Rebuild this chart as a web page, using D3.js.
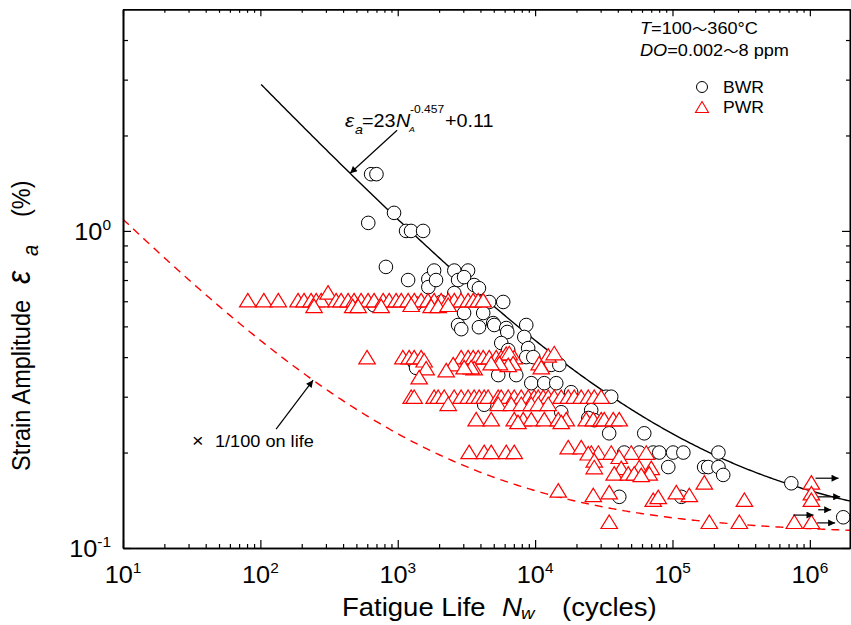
<!DOCTYPE html>
<html>
<head>
<meta charset="utf-8">
<script src="https://cdn.jsdelivr.net/npm/d3@7"></script>
<style>
  body { margin: 0; background: #fff; }
  svg { display: block; }
  text { font-family: "Liberation Sans", Arial, sans-serif; }
</style>
</head>
<body>
<svg id="chart" width="851" height="625"></svg>
<script>
// ---- Data: fatigue life (cycles) and strain amplitude (%) ----
const bwrLife = [640, 700, 940, 610, 1150, 1250, 1530, 820, 1190, 1670, 1840, 1670, 1900, 2580, 3250,
  2750, 3040, 3600, 3900, 2580, 4630, 5860, 3040, 4190, 2750, 2900, 3900, 4950, 5040, 6160, 6270,
  8620, 8340, 5670, 6370, 8900, 8620, 9700, 5390, 7290, 13100, 15000, 9380, 11660, 14250, 18300,
  32900, 35800, 4260, 15500, 25600, 27000, 24400, 34600, 62300, 44500, 57300, 72400, 80100, 101000,
  120000, 216000, 93200, 170000, 182000, 216000, 234000, 116000, 41000, 733000, 1750000,
  1320, 1360, 1360, 2070, 670];
const bwrStrain = [1.51, 1.51, 1.14, 1.06, 1.0, 1.0, 1.0, 0.77, 0.70, 0.705, 0.75, 0.665, 0.70, 0.75, 0.75,
  0.70, 0.715, 0.675, 0.66, 0.637, 0.597, 0.597, 0.551, 0.551, 0.505, 0.49, 0.497, 0.512, 0.505, 0.494, 0.48,
  0.505, 0.463, 0.443, 0.421, 0.427, 0.40, 0.40, 0.351, 0.351, 0.378, 0.378, 0.331, 0.331, 0.331, 0.31,
  0.30, 0.30, 0.283, 0.268, 0.272, 0.253, 0.257, 0.23, 0.23, 0.20, 0.20, 0.20, 0.20, 0.20,
  0.20, 0.20, 0.18, 0.18, 0.18, 0.18, 0.17, 0.145, 0.145, 0.16, 0.125,
  0.385, 0.37, 0.59, 0.597, 0.583];

const pwrLife = [
  // 0.6 %
  81, 106, 135, 188, 208, 234, 255, 277, 311, 356, 387, 435, 481, 541, 608, 673, 783, 866, 973, 1060,
  1190, 1320, 1480, 1660, 1840, 2070, 2330, 2580, 2890, 3250, 3540, 3850, 4190,
  246, 470, 515, 757, 1253, 1751, 1970, 2330,
  // 0.4 %
  598, 1090, 1210, 1317, 1480, 2894, 3254, 3540, 3850, 4188, 4632, 5209, 5666, 7048,
  6162, 6480, 12450, 13783, 1557, 2532, 6920, 6372, 5500, 4790, 10710,
  1610, 2253, 3600, 3423, 3044, 11087, 1432,
  // 0.3 %
  1253, 1317, 1841, 1970, 2179, 2575, 2894, 3254, 3600, 3916, 4258, 4550, 5387, 5666, 6372, 7048,
  7925, 8915, 9850, 10540, 11460, 12450, 13783, 15497, 17418, 19270, 21651, 24376, 26955, 30281,
  2330, 5387, 6701, 7925, 9376, 10540, 12450,
  // 0.25 %
  3723, 4790, 7048, 8190, 9376, 11660, 14740, 16850, 23550, 26507, 30281, 31844, 37024, 40955,
  7500, 15497,
  // 0.2 %
  3309, 4258, 4790, 6162, 7048,
  17418, 21651, 25634, 28850, 35805, 50093, 64404, 24376, 40955, 26955,
  26955, 42350, 57278, 70033, 37650, 47636, 52676, 67730, 59225,
  // 0.15 % and below
  14740, 26507, 132600, 34624, 106600, 72416, 333900, 78742, 170500,
  1026000, 1026000, 1026000,
  34624, 185400, 306700, 771000, 1026000];
const pwrStrain = [
  0.605, 0.605, 0.605, 0.605, 0.605, 0.605, 0.605, 0.605, 0.64, 0.605, 0.605, 0.605, 0.605, 0.605, 0.605, 0.605, 0.605, 0.605, 0.605, 0.605,
  0.605, 0.605, 0.605, 0.605, 0.605, 0.605, 0.605, 0.605, 0.605, 0.605, 0.605, 0.605, 0.605,
  0.58, 0.58, 0.58, 0.58, 0.585, 0.58, 0.58, 0.585,
  0.40, 0.40, 0.40, 0.40, 0.40, 0.40, 0.40, 0.40, 0.40, 0.40, 0.40, 0.40, 0.40, 0.40,
  0.41, 0.412, 0.405, 0.412, 0.391, 0.38, 0.383, 0.378, 0.383, 0.383, 0.383,
  0.369, 0.364, 0.369, 0.372, 0.372, 0.372, 0.346,
  0.30, 0.30, 0.30, 0.30, 0.30, 0.30, 0.30, 0.30, 0.30, 0.30, 0.30, 0.30, 0.30, 0.30, 0.30, 0.30,
  0.30, 0.30, 0.30, 0.30, 0.30, 0.30, 0.30, 0.30, 0.30, 0.30, 0.30, 0.30, 0.30, 0.30,
  0.285, 0.285, 0.285, 0.285, 0.285, 0.285, 0.285,
  0.255, 0.255, 0.255, 0.255, 0.255, 0.255, 0.255, 0.255, 0.255, 0.255, 0.255, 0.255, 0.255, 0.255,
  0.25, 0.25,
  0.201, 0.201, 0.201, 0.201, 0.201,
  0.208, 0.208, 0.20, 0.20, 0.20, 0.20, 0.20, 0.199, 0.194, 0.189,
  0.18, 0.179, 0.18, 0.179, 0.172, 0.172, 0.172, 0.172, 0.17,
  0.152, 0.147, 0.147, 0.15, 0.15, 0.142, 0.142, 0.145, 0.161,
  0.161, 0.149, 0.142,
  0.121, 0.121, 0.121, 0.121, 0.121];

// Run-out (unbroken) specimens: arrow start life and strain
const runoutLife = [1100000, 1150000, 1150000, 760000, 1130000];
const runoutStrain = [0.166, 0.145, 0.132, 0.127, 0.120];
const runoutLen = [23, 22, 13, 20, 18];

// Best-fit curve  e_a = 23 N^-0.457 + 0.11  and design curve (1/100 on life)
const fitCoef = 23, fitExp = -0.457, fitConst = 0.11, lifeFactor = 100;
const fitStartLife = 100;

const xTickDecades = [1, 2, 3, 4, 5, 6];
const yTickDecades = [-1, 0];

// ---- Layout ----
const svg = d3.select("#chart");
const plotL = 123, plotR = 850, plotT = 9.3, plotB = 548;
const SX = 1.1;   // horizontal text stretch

const x = d3.scaleLog().domain([10, 1.96e6]).range([plotL, plotR]);
const y = d3.scaleLog().domain([0.1, 5]).range([plotB, plotT]);

const fit = N => fitCoef * Math.pow(N, fitExp) + fitConst;
const design = N => fit(lifeFactor * N);

const defs = svg.append("defs");
defs.append("clipPath").attr("id", "clip").append("rect")
  .attr("x", plotL).attr("y", plotT).attr("width", plotR - plotL).attr("height", plotB - plotT);
defs.append("marker").attr("id", "head").attr("viewBox", "0 0 10 10")
  .attr("refX", 10).attr("refY", 5).attr("markerWidth", 9).attr("markerHeight", 7)
  .attr("markerUnits", "userSpaceOnUse").attr("orient", "auto")
  .append("path").attr("d", "M0,0L10,5L0,10Z").attr("fill", "#000");

const plot = svg.append("g");
const inner = plot.append("g").attr("clip-path", "url(#clip)");

// ---- Curves ----
const [lx0, lx1] = x.domain().map(Math.log10);
const samples = d3.range(0, 401).map(i => Math.pow(10, lx0 + (lx1 - lx0) * i / 400));
const line = d3.line().x(d => x(d[0])).y(d => y(d[1]));

inner.append("path")
  .datum(samples.map(N => [N, design(N)]))
  .attr("d", line).attr("fill", "none")
  .attr("stroke", "#ff0000").attr("stroke-width", 1.4).attr("stroke-dasharray", "8,6");

inner.append("path")
  .datum(samples.filter(N => N >= fitStartLife).map(N => [N, fit(N)]))
  .attr("d", line).attr("fill", "none")
  .attr("stroke", "#000").attr("stroke-width", 1.4);

// ---- Markers ----
const bwr = bwrLife.map((n, i) => ({ n, e: bwrStrain[i] }));
const pwr = pwrLife.map((n, i) => ({ n, e: pwrStrain[i] }));

inner.append("g").selectAll("circle").data(bwr).join("circle")
  .attr("cx", d => x(d.n)).attr("cy", d => y(d.e)).attr("r", 6.8)
  .attr("fill", "#fff").attr("stroke", "#000").attr("stroke-width", 1);

const triPath = (w, h) => `M0,${-h / 2}L${w / 2},${h / 2}L${-w / 2},${h / 2}Z`;
inner.append("g").selectAll("path").data(pwr).join("path")
  .attr("transform", d => `translate(${x(d.n)},${y(d.e)})`)
  .attr("d", triPath(16.5, 13.5))
  .attr("fill", "#fff").attr("stroke", "#ff0000").attr("stroke-width", 1.2);

// ---- Run-out arrows ----
runoutLife.forEach((n, i) => {
  const x0 = x(n), y0 = y(runoutStrain[i]);
  plot.append("line").attr("x1", x0).attr("y1", y0).attr("x2", x0 + runoutLen[i]).attr("y2", y0)
    .attr("stroke", "#000").attr("stroke-width", 1.2).attr("marker-end", "url(#head)");
});

// ---- Axes ----
function decadeMinors(domain) {
  const out = [];
  for (let p = Math.floor(Math.log10(domain[0])); p <= Math.ceil(Math.log10(domain[1])); p++)
    for (let k = 2; k <= 9; k++) {
      const v = k * Math.pow(10, p);
      if (v > domain[0] && v < domain[1]) out.push(v);
    }
  return out;
}
const xMajors = xTickDecades.map(p => Math.pow(10, p));
const yMajors = yTickDecades.map(p => Math.pow(10, p));
const xMinors = decadeMinors(x.domain());
const yMinors = decadeMinors(y.domain());

function drawAxis(axisFn, scale, majors, minors, majLen, minLen, transform) {
  const g = svg.append("g").attr("transform", transform);
  g.call(axisFn(scale).tickValues(minors).tickSizeInner(-minLen).tickSizeOuter(0).tickFormat(""));
  const g2 = svg.append("g").attr("transform", transform);
  g2.call(axisFn(scale).tickValues(majors).tickSizeInner(-majLen).tickSizeOuter(0).tickFormat(""));
  [g, g2].forEach(a => {
    a.select(".domain").attr("stroke", "#000").attr("stroke-width", 1.6);
    a.selectAll(".tick line").attr("stroke", "#000").attr("stroke-width", 1.2);
  });
}
drawAxis(d3.axisBottom, x, xMajors, xMinors, 8, 4, `translate(0,${plotB})`);
drawAxis(d3.axisTop, x, xMajors, xMinors, 7, 3.5, `translate(0,${plotT})`);
drawAxis(d3.axisLeft, y, yMajors, yMinors, 8, 5, `translate(${plotL},0)`);
drawAxis(d3.axisRight, y, yMajors, yMinors, 8, 4, `translate(${plotR},0)`);

// Tick labels: powers of ten
xTickDecades.forEach(p => {
  const t = svg.append("text")
    .attr("transform", `translate(${x(Math.pow(10, p))},583) scale(${SX},1)`)
    .attr("text-anchor", "middle").attr("font-size", 23);
  t.append("tspan").text("10");
  t.append("tspan").attr("font-size", 14).attr("dy", -10).text(p);
});
yTickDecades.forEach(p => {
  const t = svg.append("text")
    .attr("transform", `translate(111,${y(Math.pow(10, p)) + 9}) scale(${SX},1)`)
    .attr("text-anchor", "end").attr("font-size", 23);
  t.append("tspan").text("10");
  t.append("tspan").attr("font-size", 14).attr("dy", -10).text(p);
});

// ---- Text helper ----
function addText(parent, px, py, str, size, opts = {}) {
  const t = parent.append("text")
    .attr("transform", `translate(${px},${py}) scale(${opts.sx ?? SX},1)`)
    .attr("font-size", size)
    .attr("text-anchor", opts.anchor || "start")
    .attr("fill", opts.fill || "#000")
    .text(str);
  if (opts.italic) t.attr("font-style", "italic");
  if (opts.family) t.attr("font-family", opts.family);
  return t;
}

// X axis title
addText(svg, 342, 616, "Fatigue Life", 25);
addText(svg, 502, 616, "N", 25, { italic: true });
addText(svg, 521, 619, "w", 17, { italic: true });
addText(svg, 562, 616, "(cycles)", 25);

// Y axis title (rotated)
const yt = svg.append("g").attr("transform", "translate(30,0) rotate(-90) scale(1,1.1)");
yt.append("text").attr("x", -471).attr("y", 0).attr("font-size", 23.5).text("Strain Amplitude");
yt.append("text").attr("x", -284).attr("y", 0).attr("font-size", 30).attr("font-style", "italic")
  .attr("font-family", "'Liberation Serif', serif").text("ε");
yt.append("text").attr("x", -256).attr("y", 7).attr("font-size", 20).attr("font-style", "italic").text("a");
yt.append("text").attr("x", -217).attr("y", 0).attr("font-size", 23.5).text("(%)");

// Conditions and legend
const cond1 = addText(svg, 640, 34, "", 16.5);
cond1.append("tspan").attr("font-style", "italic").text("T");
cond1.append("tspan").text("=100");
cond1.append("tspan").attr("font-family", "'Noto Sans CJK JP'").attr("font-size", 14).text("〜");
cond1.append("tspan").text("360°C");
const cond2 = addText(svg, 640, 56, "", 16.5);
cond2.append("tspan").attr("font-style", "italic").text("DO");
cond2.append("tspan").text("=0.002");
cond2.append("tspan").attr("font-family", "'Noto Sans CJK JP'").attr("font-size", 14).text("〜");
cond2.append("tspan").text("8 ppm");

svg.append("circle").attr("cx", 702).attr("cy", 87).attr("r", 5.5)
  .attr("fill", "#fff").attr("stroke", "#000").attr("stroke-width", 1);
addText(svg, 723, 93, "BWR", 16);
svg.append("path").attr("transform", "translate(702,107)").attr("d", triPath(13, 11))
  .attr("fill", "#fff").attr("stroke", "#ff0000").attr("stroke-width", 1.1);
addText(svg, 723, 113, "PWR", 16);

// Equation annotation with arrow to the fit curve
const tipLife1 = 450;
const tip1 = [x(tipLife1), y(fit(tipLife1))];
svg.append("line").attr("x1", tip1[0] + 47).attr("y1", tip1[1] - 43)
  .attr("x2", tip1[0]).attr("y2", tip1[1])
  .attr("stroke", "#000").attr("stroke-width", 1.2).attr("marker-end", "url(#head)");
const eq = svg.append("g");
addText(eq, 345, 127, "ε", 19, { italic: true, family: "'Liberation Serif', serif" });
addText(eq, 355, 134, "a", 13, { italic: true });
addText(eq, 362, 127, "=23", 18);
addText(eq, 396, 127, "N", 18, { italic: true });
addText(eq, 409, 132, "A", 8, { italic: true });
addText(eq, 410, 113, "-0.457", 11);
addText(eq, 445, 127, "+0.11", 18);

// Design curve annotation
const tipLife2 = 242;
const tip2 = [x(tipLife2), y(design(tipLife2))];
svg.append("line").attr("x1", tip2[0] - 37).attr("y1", tip2[1] + 49)
  .attr("x2", tip2[0]).attr("y2", tip2[1])
  .attr("stroke", "#000").attr("stroke-width", 1.2).attr("marker-end", "url(#head)");
addText(svg, 192, 447, "×", 18);
addText(svg, 215, 447, "1/100 on life", 16.5);
</script>
</body>
</html>
